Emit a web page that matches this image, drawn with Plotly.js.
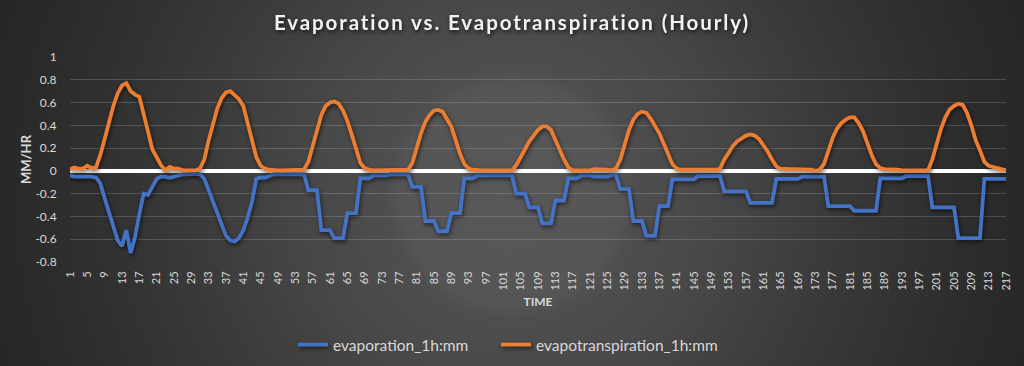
<!DOCTYPE html>
<html>
<head>
<meta charset="utf-8">
<script src="https://cdn.plot.ly/plotly-3.0.1.min.js"></script>
<style>
  html, body { margin: 0; padding: 0; width: 1024px; height: 366px; overflow: hidden; }
  body {
    background: radial-gradient(circle at 512px 195px,
      #585858 0px, #555555 110px, #4e4e4e 125px, #484848 200px,
      #414141 260px, #393939 330px, #313131 410px, #2a2a2a 490px,
      #242424 580px, #1f1f1f 720px);
  }
  #chart { width: 1024px; height: 366px; }
  #chart .scatterlayer .js-line { filter: drop-shadow(1px 2px 2px rgba(0,0,0,0.6)); }
  #chart .legend .js-line { filter: drop-shadow(1px 2px 2px rgba(0,0,0,0.6)); }
  #chart .gtitle { filter: drop-shadow(1px 2px 2px rgba(0,0,0,0.7)); letter-spacing: 1.9px; }
</style>
</head>
<body>
<div id="chart"></div>
<script>
// ---- Data ----
const evaporation = [
  -0.04,-0.05,-0.05,-0.05,-0.05,-0.05,-0.06,-0.11,-0.24,-0.37,
  -0.50,-0.61,-0.66,-0.52,-0.72,-0.58,-0.38,-0.20,-0.21,-0.14,
  -0.07,-0.05,-0.05,-0.06,-0.05,-0.04,-0.03,-0.03,-0.025,-0.025,
  -0.03,-0.07,-0.17,-0.27,-0.36,-0.48,-0.57,-0.61,-0.62,-0.59,
  -0.52,-0.41,-0.27,-0.07,-0.06,-0.06,-0.045,-0.03,-0.03,-0.03,
  -0.03,-0.03,-0.03,-0.03,-0.03,-0.17,-0.17,-0.17,-0.52,-0.52,
  -0.52,-0.59,-0.59,-0.59,-0.37,-0.37,-0.37,-0.065,-0.065,-0.065,
  -0.04,-0.04,-0.04,-0.04,-0.03,-0.03,-0.03,-0.03,-0.03,-0.14,
  -0.14,-0.14,-0.44,-0.44,-0.44,-0.53,-0.53,-0.53,-0.37,-0.37,
  -0.37,-0.065,-0.065,-0.065,-0.04,-0.04,-0.04,-0.04,-0.04,-0.04,
  -0.04,-0.04,-0.04,-0.20,-0.20,-0.20,-0.32,-0.32,-0.32,-0.46,
  -0.46,-0.46,-0.26,-0.26,-0.26,-0.065,-0.065,-0.065,-0.04,-0.04,
  -0.04,-0.05,-0.05,-0.05,-0.05,-0.035,-0.035,-0.16,-0.16,-0.16,
  -0.44,-0.44,-0.44,-0.57,-0.57,-0.57,-0.31,-0.31,-0.31,-0.075,
  -0.075,-0.075,-0.075,-0.075,-0.075,-0.045,-0.045,-0.045,-0.045,-0.045,
  -0.045,-0.18,-0.18,-0.18,-0.18,-0.18,-0.18,-0.28,-0.28,-0.28,
  -0.28,-0.28,-0.28,-0.07,-0.07,-0.07,-0.07,-0.07,-0.07,-0.05,
  -0.05,-0.05,-0.05,-0.05,-0.05,-0.31,-0.31,-0.31,-0.31,-0.31,
  -0.31,-0.35,-0.35,-0.35,-0.35,-0.35,-0.35,-0.065,-0.065,-0.065,
  -0.065,-0.065,-0.065,-0.045,-0.045,-0.045,-0.045,-0.045,-0.045,-0.32,
  -0.32,-0.32,-0.32,-0.32,-0.32,-0.59,-0.59,-0.59,-0.59,-0.59,
  -0.59,-0.07,-0.07,-0.07,-0.07,-0.07,-0.07
];

const evapotranspiration = [
  0.015,0.03,0.02,0.02,0.045,0.025,0.03,0.14,0.28,0.43,
  0.57,0.68,0.75,0.77,0.70,0.67,0.65,0.50,0.35,0.19,
  0.12,0.05,0.005,0.035,0.02,0.02,0.005,0.005,0.005,0.005,
  0.02,0.10,0.27,0.42,0.55,0.64,0.69,0.70,0.66,0.63,
  0.57,0.42,0.24,0.12,0.045,0.02,0.01,0.005,0.005,0.005,
  0.005,0.005,0.005,0.005,0.01,0.08,0.22,0.37,0.49,0.57,
  0.60,0.61,0.59,0.53,0.44,0.32,0.18,0.07,0.025,0.01,
  0.005,0.005,0.005,0.005,0.005,0.005,0.005,0.005,0.01,0.07,
  0.20,0.33,0.43,0.49,0.53,0.535,0.52,0.46,0.39,0.27,
  0.15,0.06,0.02,0.01,0.005,0.005,0.005,0.005,0.005,0.005,
  0.005,0.005,0.005,0.05,0.12,0.19,0.26,0.31,0.36,0.39,
  0.39,0.36,0.27,0.18,0.10,0.03,0.005,0.005,0.005,0.005,
  0.005,0.015,0.015,0.015,0.01,0.005,0.02,0.10,0.22,0.36,
  0.45,0.50,0.52,0.51,0.46,0.40,0.33,0.24,0.14,0.06,
  0.02,0.01,0.01,0.01,0.01,0.01,0.01,0.01,0.01,0.01,
  0.02,0.10,0.16,0.22,0.26,0.29,0.31,0.32,0.31,0.28,
  0.23,0.17,0.10,0.04,0.02,0.015,0.015,0.015,0.015,0.015,
  0.015,0.01,0.0,0.01,0.06,0.17,0.29,0.37,0.42,0.45,
  0.47,0.47,0.42,0.35,0.24,0.14,0.06,0.025,0.015,0.015,
  0.015,0.01,0.005,0.005,0.005,0.005,0.005,0.005,0.005,0.10,
  0.25,0.37,0.47,0.54,0.57,0.59,0.58,0.51,0.40,0.27,
  0.18,0.08,0.045,0.035,0.025,0.015,0.005
];

const xTickVals = [1,5,9,13,17,21,25,29,33,37,41,45,49,53,57,61,65,69,73,77,81,85,89,93,97,
  101,105,109,113,117,121,125,129,133,137,141,145,149,153,157,161,165,169,173,177,181,185,
  189,193,197,201,205,209,213,217];
const yTickVals = [1, 0.8, 0.6, 0.4, 0.2, 0, -0.2, -0.4, -0.6, -0.8];
const yTickText = ['1', '0.8', '0.6', '0.4', '0.2', '0', '-0.2', '-0.4', '-0.6', '-0.8'];

const seriesNames = ['evaporation_1h:mm', 'evapotranspiration_1h:mm'];
const chartTitle = 'Evaporation vs. Evapotranspiration (Hourly)';

// ---- Build ----
const hours = evaporation.map((_, i) => i + 1);
const FONT = 'Lato, "Open Sans", "Noto Sans", sans-serif';
const TXT = '#d9d9d9';

const traces = [
  { x: hours, y: evaporation, name: seriesNames[0], type: 'scatter', mode: 'lines',
    line: { color: '#4472C4', width: 3.8 }, legendwidth: 158 },
  { x: hours, y: evapotranspiration, name: seriesNames[1], type: 'scatter', mode: 'lines',
    line: { color: '#ED7D31', width: 3.8 } }
];

const layout = {
  width: 1024, height: 366,
  margin: { l: 70, r: 18, t: 57, b: 104, autoexpand: false },
  paper_bgcolor: 'rgba(0,0,0,0)',
  plot_bgcolor: 'rgba(0,0,0,0)',
  font: { family: FONT, color: TXT },
  title: {
    text: chartTitle,
    font: { family: FONT, size: 20.5, color: '#f2f2f2', weight: 'bold' },
    x: 0.5, xref: 'container', xanchor: 'center',
    y: 1 - 23 / 366, yref: 'container', yanchor: 'middle'
  },
  xaxis: {
    range: [1, 217],
    tickmode: 'array', tickvals: xTickVals, ticktext: xTickVals.map(String),
    tickangle: -90,
    tickfont: { family: FONT, size: 11, color: TXT },
    showgrid: false, zeroline: false, showline: false,
    ticks: 'outside', ticklen: 4, tickcolor: 'rgba(0,0,0,0)',
    title: { text: 'TIME', font: { family: FONT, size: 12, color: TXT, weight: 'bold' }, standoff: 8 },
    automargin: false
  },
  yaxis: {
    range: [-0.8, 1],
    tickmode: 'array', tickvals: yTickVals, ticktext: yTickText,
    tickfont: { family: FONT, size: 12, color: TXT },
    showgrid: true, gridcolor: 'rgba(255,255,255,0.17)', gridwidth: 1,
    zeroline: true, zerolinecolor: '#ffffff', zerolinewidth: 3.5,
    showline: false,
    ticks: 'outside', ticklen: 10, tickcolor: 'rgba(0,0,0,0)',
    title: { text: 'MM/HR', font: { family: FONT, size: 13, color: TXT, weight: 'bold' }, standoff: 0 },
    automargin: false
  },
  showlegend: true,
  legend: {
    orientation: 'h', x: 293 / 1024, xanchor: 'left', xref: 'container',
    y: 21 / 366, yanchor: 'middle', yref: 'container',
    font: { family: FONT, size: 15.5, color: TXT },
    bgcolor: 'rgba(0,0,0,0)', itemwidth: 30, traceorder: 'normal'
  }
};

Plotly.newPlot('chart', traces, layout, { displayModeBar: false, staticPlot: true });
</script>
</body>
</html>
